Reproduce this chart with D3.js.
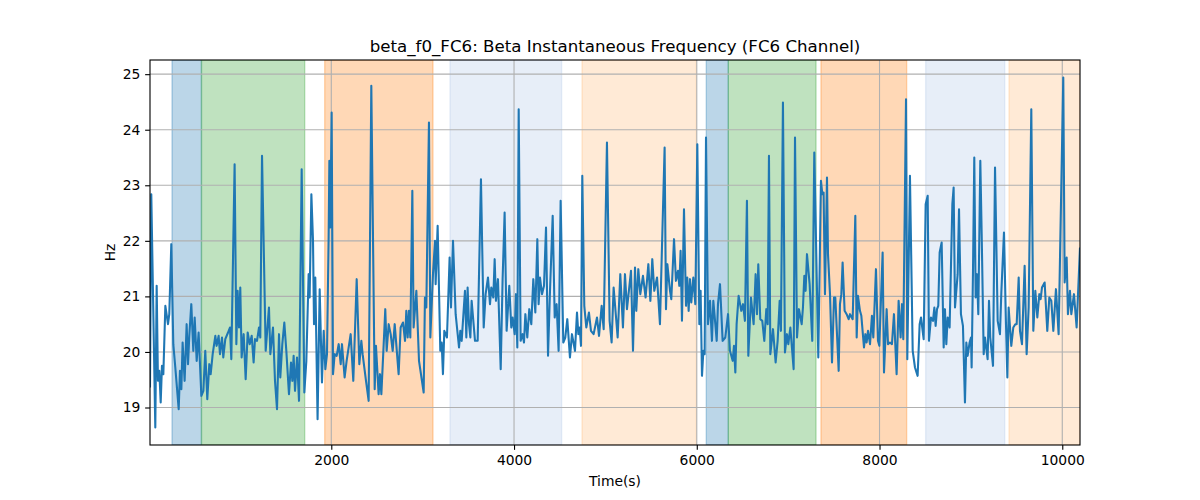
<!DOCTYPE html>
<html>
<head>
<meta charset="utf-8">
<script src="https://cdn.jsdelivr.net/npm/d3@7"></script>
<style>
  body { margin: 0; background: #fff; }
  svg { display: block; font-family: "DejaVu Sans", sans-serif; }
</style>
</head>
<body>
<svg id="chart" width="1200" height="500"></svg>
<script>
// ---- data ----
const times = [16,30,74,89,103,118,133,147,162,184,213,227,249,271,293,330,344,359,373,395,417,432,446,468,490,505,527,548,578,600,621,643,665,680,702,731,745,767,782,804,818,840,870,891,906,
942,961,975,990,1004,1019,1041,1063,1085,1107,1129,1150,1165,1187,1209,1223,1242,1282,1318,1333,1362,1384,1406,1428,1442,1464,1486,1508,1537,1559,1574,1588,1603,1625,1647,1676,1705,1727,1752,1763,1782,1800,1811,1825,1850,
1873,1898,1917,1935,1953,1971,1979,1989,2004,2019,2037,2059,2081,2103,2117,2146,2168,2212,2241,2278,2307,2329,2343,2380,2409,2438,2475,2489,2518,2533,2548,2570,2591,2606,2628,2650,2672,2694,2737,2759,2785,
2807,2821,2836,2850,2865,2887,2901,2931,2960,3011,3025,3040,3069,3084,3113,3135,3142,3164,3193,3208,3222,3237,3266,3295,3310,3332,3361,3398,3412,3427,3463,3478,3492,3507,3522,3536,3573,3602,3638,3668,3689,3715,
3737,3751,3773,3788,3802,3824,3854,3875,3897,3919,3948,3970,3985,4007,4021,4036,4051,4072,4094,4109,4124,4145,4167,4189,4211,4233,4255,4269,4284,4306,4328,4350,4372,4393,4423,4445,4466,4488,4510,4539,4561,4583,4612,4634,
4667,4689,4704,4718,4733,4747,4769,4791,4820,4842,4871,4908,4930,4959,4981,5017,5046,5068,5090,5134,5163,5192,5214,5236,5280,5302,5324,5338,5360,5382,5411,5440,5470,5492,5513,5535,5565,
5597,5648,5663,5678,5707,5721,5751,5772,5794,5809,5823,5838,5860,5882,5896,5911,5926,5940,5962,5984,6006,6028,6042,6057,6072,6086,6101,6123,6145,6166,6181,6203,6218,6232,6254,6283,6312,6342,6363,6393,6407,6422,6436,6458,6487,6506,
6527,6549,6564,6593,6622,6644,6659,6673,6695,6717,6739,6761,6776,6790,6805,6834,6863,6885,6907,6921,6943,6965,6987,7002,7024,7060,7075,7097,7118,7148,7162,7177,7191,7206,7235,7264,7286,7330,7359,7374,7388,7403,7425,7436,
7458,7480,7502,7516,7553,7567,7582,7596,7618,7640,7662,7677,7706,7735,7750,7764,7786,7801,7830,7845,7859,7874,7896,7917,7932,7961,7983,7998,8034,8049,8078,8093,8114,8136,8158,8187,8209,8231,8246,8260,8290,8304,8333,8363,
8388,8417,8439,8454,8483,8505,8527,8541,8563,8585,8600,8614,8629,8643,8658,8680,8702,8716,8731,8746,8767,8797,8811,8826,8855,8870,8891,8913,8935,8950,8964,8986,9001,9008,9023,9037,9052,9067,9081,9103,9118,9140,9154,9183,9198,9212,9242,9264,9293,
9318,9333,9362,9384,9399,9413,9442,9464,9486,9501,9523,9537,9559,9588,9610,9632,9661,9683,9705,9727,9749,9763,9778,9807,9836,9858,9880,9902,9931,9960,10011,10026,10048,10062,10084,10099,10128,10157,10194];

const hz = [19.36,22.84,18.64,21.19,19.48,19.66,19.09,19.75,19.60,20.83,20.50,20.68,21.94,20.14,19.72,18.97,19.66,19.33,20.17,19.48,20.50,19.78,20.29,20.86,20.02,20.62,19.84,20.35,19.21,19.30,20.02,19.15,19.78,19.60,19.96,20.29,20.11,20.29,19.96,20.26,19.90,20.23,20.35,20.44,19.87,
23.38,20.14,21.10,20.44,21.16,19.90,20.32,19.51,20.35,20.14,20.29,19.81,20.23,20.20,20.44,20.26,23.53,20.02,20.80,19.96,20.44,19.48,18.97,20.32,19.54,20.14,20.53,20.02,19.24,19.81,19.48,19.93,19.30,19.90,19.12,23.29,19.27,19.84,21.40,20.98,22.84,22.00,20.50,21.34,18.79,
21.13,19.45,20.38,19.69,19.96,22.06,23.44,22.24,24.31,19.60,19.96,19.93,20.14,19.78,20.14,19.54,19.84,20.32,19.48,21.31,19.78,20.20,19.96,19.48,19.12,24.79,19.33,20.11,19.24,19.60,19.24,20.02,20.77,20.02,20.50,20.32,20.02,20.50,19.60,20.44,20.53,
20.20,20.74,20.26,20.74,20.26,22.90,20.44,21.10,19.84,19.27,20.98,20.80,24.13,20.26,21.40,22.00,21.22,22.27,20.02,20.17,19.60,20.38,20.26,21.70,20.80,22.00,20.68,20.08,20.38,20.20,21.10,20.26,21.16,20.50,20.26,20.92,20.20,20.20,23.11,20.44,21.04,21.34,
20.86,21.16,20.98,21.67,20.92,21.31,19.69,21.31,22.51,20.38,21.19,20.44,20.62,20.32,21.04,20.08,24.37,20.20,20.32,20.17,20.68,20.26,20.77,20.50,21.31,20.71,22.03,20.86,21.34,21.04,21.19,22.24,19.93,21.07,22.45,20.62,20.86,20.02,22.72,20.17,20.26,20.59,19.90,20.32,
20.02,20.71,20.32,20.44,20.11,23.17,20.83,20.44,20.71,20.38,20.32,20.62,20.29,20.83,20.41,23.77,20.56,20.17,21.16,20.26,21.40,20.44,21.40,20.77,21.46,20.02,21.52,20.74,21.49,21.04,21.37,20.98,21.58,20.92,21.67,21.10,21.34,
20.50,23.68,20.77,21.58,21.10,20.95,22.03,21.28,21.46,21.19,21.82,20.56,22.57,20.83,21.34,20.74,21.31,20.89,21.34,20.86,23.74,20.50,21.10,19.57,20.02,19.96,23.86,20.50,20.92,20.20,20.92,20.50,20.20,20.86,21.22,20.20,20.26,20.68,20.02,19.84,20.11,19.63,20.50,21.01,20.74,20.86,
20.56,22.72,19.93,20.98,20.50,21.40,20.68,21.58,20.59,20.56,20.20,20.77,20.50,23.53,19.96,20.41,19.81,20.20,20.92,20.38,24.49,19.99,20.32,20.14,20.44,19.69,23.86,20.26,20.77,20.50,20.80,21.37,21.10,21.76,21.22,20.20,23.59,19.90,23.08,22.84,22.87,21.04,23.14,21.76,
21.04,19.81,20.98,20.98,19.66,20.86,21.04,21.61,20.74,20.68,20.59,20.68,20.59,22.45,20.26,21.01,20.74,20.65,20.08,20.32,20.17,20.38,20.14,20.65,20.26,21.49,20.20,20.11,21.79,19.63,20.77,20.14,20.17,20.14,20.68,19.60,20.92,20.26,20.86,20.23,24.55,19.87,23.17,20.02,
19.72,19.57,20.50,20.62,20.23,22.66,22.81,20.20,20.62,20.56,20.80,20.47,20.77,20.83,21.79,21.97,20.08,20.77,20.14,20.62,20.44,22.66,22.96,20.80,21.40,22.57,20.68,20.47,19.09,20.17,19.93,20.17,20.26,19.72,21.46,23.50,20.98,21.40,20.68,23.44,22.12,19.96,20.26,19.87,20.92,20.26,19.75,23.32,20.56,
20.32,21.07,22.15,20.50,19.54,20.80,20.11,20.44,20.50,20.50,21.34,20.38,20.14,21.55,19.96,20.80,24.37,20.38,21.10,20.62,21.04,20.95,21.16,21.25,20.38,20.98,20.92,20.38,21.13,20.32,24.94,21.25,21.70,20.68,21.10,20.68,21.04,20.44,21.88];

const bandStarts = [257, 579, 1928, 3299, 4744, 6104, 6345, 7359, 8505, 9417];
const bandEnds   = [579, 1709, 3113, 4521, 5995, 6345, 7305, 8297, 9370, 10194];
const bandKinds  = ["blue", "green", "orange", "lightblue", "lightorange", "blue", "green", "orange", "lightblue", "lightorange"];

const xTicks = [2000, 4000, 6000, 8000, 10000];
const yTicks = [19, 20, 21, 22, 23, 24, 25];

const titleText = "beta_f0_FC6: Beta Instantaneous Frequency (FC6 Channel)";
const xLabel = "Time(s)";
const yLabel = "Hz";

// ---- drawing ----
const kindColor = { blue: "#1f77b4", green: "#2ca02c", orange: "#ff7f0e", lightblue: "#aec7e8", lightorange: "#ffbb78" };
const PT = 100 / 72;
const W = 1200, H = 500;
const m = { left: 150, right: 120, top: 60, bottom: 55 };
const pw = W - m.left - m.right, ph = H - m.top - m.bottom;

const data = times.map((t, i) => ({ t, v: hz[i] }));
const bands = bandStarts.map((s, i) => ({ s, e: bandEnds[i], k: bandKinds[i] }));

const xExt = d3.extent(times);
const yExt = d3.extent(hz);
const yPad = (yExt[1] - yExt[0]) * 0.05;
const x = d3.scaleLinear().domain(xExt).range([0, pw]);
const y = d3.scaleLinear().domain([yExt[0] - yPad, yExt[1] + yPad]).range([ph, 0]);

const svg = d3.select("#chart");
svg.append("defs").append("clipPath").attr("id", "clip")
  .append("rect").attr("width", pw).attr("height", ph);

const g = svg.append("g").attr("transform", `translate(${m.left},${m.top})`);

// bands
g.append("g").attr("clip-path", "url(#clip)")
  .selectAll("rect").data(bands).join("rect")
  .attr("x", d => x(d.s))
  .attr("width", d => x(d.e) - x(d.s))
  .attr("y", 0).attr("height", ph)
  .attr("fill", d => kindColor[d.k]).attr("fill-opacity", 0.3)
  .attr("stroke", d => kindColor[d.k]).attr("stroke-opacity", 0.3).attr("stroke-width", PT);

// grid
const grid = g.append("g");
grid.selectAll("line.gx").data(xTicks).join("line")
  .attr("x1", d => x(d)).attr("x2", d => x(d)).attr("y1", 0).attr("y2", ph)
  .attr("stroke", "#b0b0b0").attr("stroke-width", 0.8 * PT);
grid.selectAll("line.gy").data(yTicks).join("line")
  .attr("y1", d => y(d)).attr("y2", d => y(d)).attr("x1", 0).attr("x2", pw)
  .attr("stroke", "#b0b0b0").attr("stroke-width", 0.8 * PT);

// line
const line = d3.line().x(d => x(d.t)).y(d => y(d.v));
g.append("path").datum(data).attr("clip-path", "url(#clip)")
  .attr("d", line).attr("fill", "none")
  .attr("stroke", "#1f77b4").attr("stroke-width", 1.5 * PT)
  .attr("stroke-linejoin", "round").attr("stroke-linecap", "butt");

// axes
const xAxis = d3.axisBottom(x).tickValues(xTicks).tickSize(3.5 * PT).tickPadding(3.5 * PT).tickFormat(d3.format("d"));
const yAxis = d3.axisLeft(y).tickValues(yTicks).tickSize(3.5 * PT).tickPadding(3.5 * PT).tickFormat(d3.format("d"));
const gx = g.append("g").attr("transform", `translate(0,${ph})`).call(xAxis);
const gy = g.append("g").call(yAxis);
[gx, gy].forEach(a => {
  a.select(".domain").remove();
  a.selectAll(".tick line").attr("stroke", "#000").attr("stroke-width", 0.8 * PT);
  a.selectAll(".tick text").attr("fill", "#000").style("font-size", (10 * PT) + "px").style("font-family", "DejaVu Sans");
});

// spines
g.append("rect").attr("width", pw).attr("height", ph)
  .attr("fill", "none").attr("stroke", "#000").attr("stroke-width", 0.8 * PT);

// texts
svg.append("text").attr("x", m.left + pw / 2).attr("y", 52)
  .attr("text-anchor", "middle").style("font-size", (12 * PT) + "px").text(titleText);
svg.append("text").attr("x", m.left + pw / 2).attr("y", 486)
  .attr("text-anchor", "middle").style("font-size", (10 * PT) + "px").text(xLabel);
svg.append("text").attr("transform", `translate(115,${m.top + ph / 2}) rotate(-90)`)
  .attr("text-anchor", "middle").style("font-size", (10 * PT) + "px").text(yLabel);
</script>
</body>
</html>
